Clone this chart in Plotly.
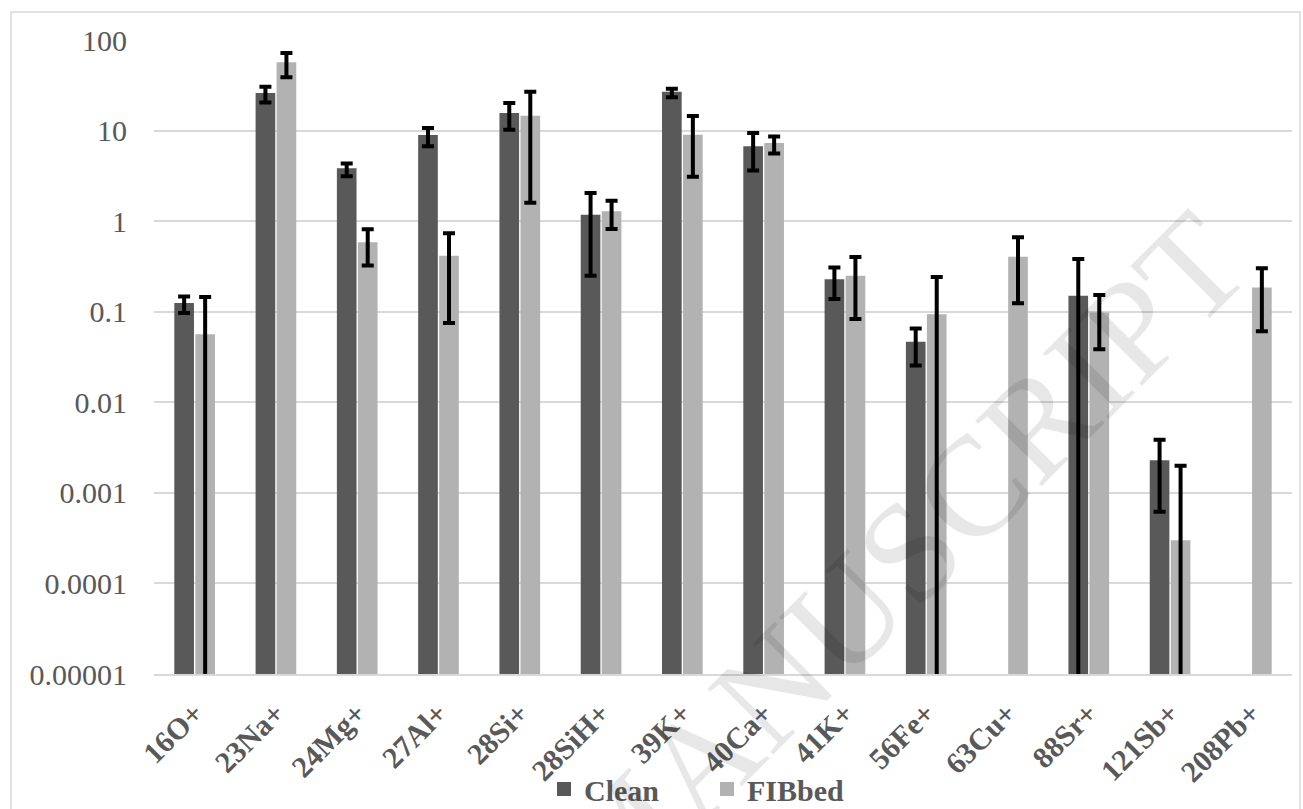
import plotly.graph_objects as go

# Ion species on the x axis
ions = ["16O+", "23Na+", "24Mg+", "27Al+", "28Si+", "28SiH+", "39K+", "40Ca+",
        "41K+", "56Fe+", "63Cu+", "88Sr+", "121Sb+", "208Pb+"]

# Clean surface: mean signal and standard deviation (None = not detected)
clean = [0.122, 25.4, 3.73, 8.7, 15.2, 1.15, 26.2, 6.53,
         0.223, 0.0454, None, 0.146, 0.00224, None]
clean_err = [0.025, 5.0, 0.6, 2.0, 5.0, 0.9, 2.8, 2.9,
             0.085, 0.02, None, 0.235, 0.00162, None]

# FIB-milled surface
fibbed = [0.055, 55.3, 0.569, 0.405, 14.2, 1.25, 8.79, 7.1,
          0.243, 0.0916, 0.394, 0.0955, 0.000293, 0.181]
fibbed_err = [0.09, 16.5, 0.245, 0.33, 12.6, 0.43, 5.7, 1.5,
              0.16, 0.15, 0.27, 0.057, 0.0017, 0.12]

# Logarithmic y axis ticks
y_tickvals = [1e-5, 1e-4, 1e-3, 1e-2, 1e-1, 1, 10, 100]
y_ticktext = ["0.00001", "0.0001", "0.001", "0.01", "0.1", "1", "10", "100"]

SERIF = "Liberation Serif, Times New Roman, serif"
TEXT_GREY = "#595959"
GRID = "#d9d9d9"
CLEAN_COLOR = "#595959"
FIBBED_COLOR = "#b2b2b2"

W, H = 1303, 809
L, R, T, B = 154, 11, 40, 135
PW, PH = W - L - R, H - T - B


def px_to_paper(px, py):
    return (px - L) / PW, (H - B - py) / PH


err_style = dict(type="data", visible=True, color="black", thickness=4, width=6)

fig = go.Figure()
fig.add_trace(go.Bar(
    name="Clean", x=ions, y=clean,
    marker=dict(color=CLEAN_COLOR, line=dict(width=2, color=CLEAN_COLOR)),
    error_y=dict(array=clean_err, **err_style),
))
fig.add_trace(go.Bar(
    name="FIBbed", x=ions, y=fibbed,
    marker=dict(color=FIBBED_COLOR, line=dict(width=2, color=FIBBED_COLOR)),
    error_y=dict(array=fibbed_err, **err_style),
))

# Outer chart frame
fx0, fy0 = px_to_paper(11, 12)
fx1, fy1 = px_to_paper(1300, 820)
fig.add_shape(type="rect", xref="paper", yref="paper",
              x0=fx0, y0=fy1, x1=fx1, y1=fy0,
              line=dict(color=GRID, width=1.5), layer="below")

# Diagonal watermark
wx, wy = px_to_paper(626, 834)
fig.add_annotation(
    text="ACCEPTED MANUSCRIPT", xref="paper", yref="paper",
    x=wx, y=wy, xanchor="center", yanchor="middle",
    textangle=-45, showarrow=False,
    font=dict(family=SERIF, size=142, color="rgba(0,0,0,0.095)"),
)

fig.update_layout(
    width=W, height=H,
    margin=dict(l=L, r=R, t=T, b=B, pad=0, autoexpand=False),
    paper_bgcolor="white", plot_bgcolor="white",
    barmode="group", bargap=0.483, bargroupgap=0.16,
    font=dict(family=SERIF, color=TEXT_GREY),
    showlegend=True,
    legend=dict(
        orientation="h", xref="container", yref="container",
        x=544 / W, y=(H - 789) / H, xanchor="left", yanchor="middle",
        font=dict(family=SERIF, size=30, color=TEXT_GREY, weight="bold"),
        entrywidth=118, bgcolor="rgba(0,0,0,0)",
    ),
    xaxis=dict(
        tickangle=-45, showgrid=False, showline=True, linecolor=GRID, linewidth=1.5,
        ticks="", automargin=False,
        tickfont=dict(family=SERIF, size=30, color=TEXT_GREY, weight="bold"),
        ticklabelstandoff=8,
    ),
    yaxis=dict(
        type="log", range=[-5, 2], tickvals=y_tickvals, ticktext=y_ticktext,
        showgrid=True, gridcolor=GRID, gridwidth=1.5, zeroline=False,
        showline=False, ticks="", ticklabelstandoff=26, automargin=False,
        tickfont=dict(family=SERIF, size=30, color=TEXT_GREY),
    ),
)

fig.write_html("out.html")
